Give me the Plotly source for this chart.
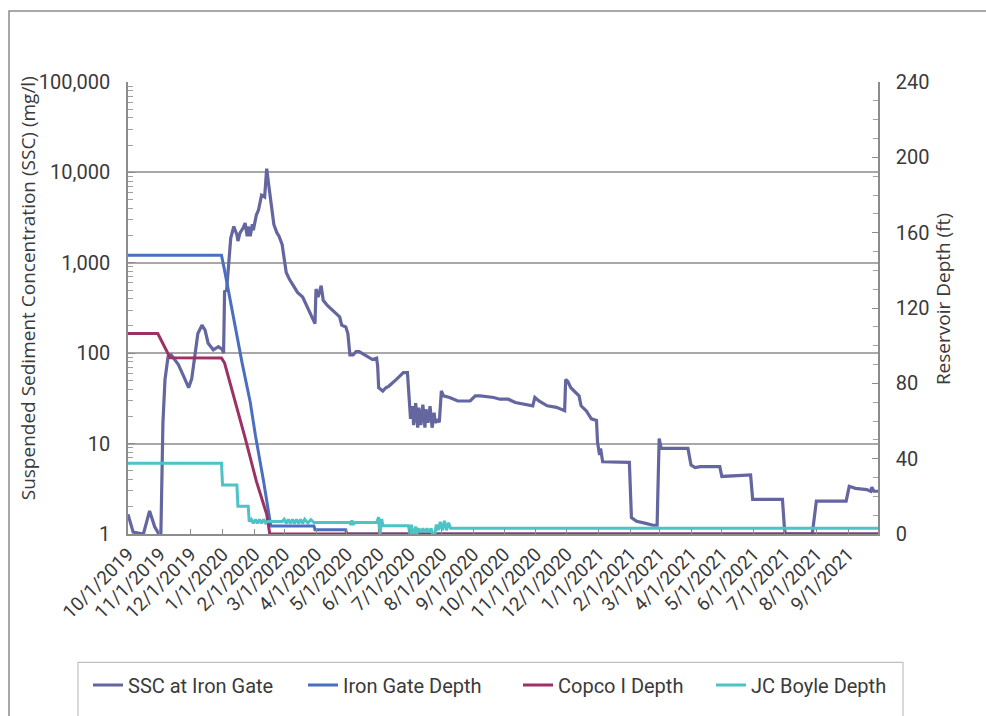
import plotly.graph_objects as go

# ---- Suspended sediment concentration at Iron Gate (mg/l) ----
ssc_dates = [
    "2019-10-01", "2019-10-06", "2019-10-16", "2019-10-22", "2019-10-27", "2019-10-31",
    "2019-11-02", "2019-11-03", "2019-11-04", "2019-11-06", "2019-11-09", "2019-11-12",
    "2019-11-19", "2019-11-24", "2019-11-29", "2019-12-02", "2019-12-05", "2019-12-08",
    "2019-12-12", "2019-12-15", "2019-12-18", "2019-12-23", "2019-12-28", "2020-01-01",
    "2020-01-02", "2020-01-03", "2020-01-05", "2020-01-09", "2020-01-12", "2020-01-15",
    "2020-01-16", "2020-01-18", "2020-01-21", "2020-01-23", "2020-01-25", "2020-01-26",
    "2020-01-28", "2020-01-30", "2020-01-31", "2020-02-02", "2020-02-03", "2020-02-05",
    "2020-02-07", "2020-02-08", "2020-02-11", "2020-02-13", "2020-02-15", "2020-02-18",
    "2020-02-20", "2020-02-23", "2020-02-25", "2020-02-28", "2020-03-01", "2020-03-03",
    "2020-03-06", "2020-03-09", "2020-03-14", "2020-03-19", "2020-03-22", "2020-03-27",
    "2020-03-31", "2020-04-01", "2020-04-03", "2020-04-06", "2020-04-08", "2020-04-12",
    "2020-04-19", "2020-04-24", "2020-04-26", "2020-04-30", "2020-05-02", "2020-05-04",
    "2020-05-07", "2020-05-10", "2020-05-13", "2020-05-18", "2020-05-23", "2020-05-26",
    "2020-05-30", "2020-05-31", "2020-06-01", "2020-06-05", "2020-06-08", "2020-06-11",
    "2020-06-18", "2020-06-25", "2020-06-29", "2020-07-01", "2020-07-02", "2020-07-04",
    "2020-07-05", "2020-07-07", "2020-07-09", "2020-07-10", "2020-07-12", "2020-07-14",
    "2020-07-16", "2020-07-17", "2020-07-19", "2020-07-21", "2020-07-23", "2020-07-25",
    "2020-07-26", "2020-07-28", "2020-07-30", "2020-08-01", "2020-08-03", "2020-08-09",
    "2020-08-17", "2020-08-29", "2020-09-03", "2020-09-08", "2020-09-21", "2020-09-27",
    "2020-10-05", "2020-10-12", "2020-10-20", "2020-10-29", "2020-10-31", "2020-11-04",
    "2020-11-12", "2020-11-21", "2020-11-29", "2020-11-30", "2020-12-02", "2020-12-05",
    "2020-12-13", "2020-12-15", "2020-12-20", "2020-12-25", "2020-12-30", "2020-12-31",
    "2021-01-02", "2021-01-03", "2021-01-05", "2021-01-31", "2021-02-02", "2021-02-07",
    "2021-02-15", "2021-02-23", "2021-02-27", "2021-03-01", "2021-03-03", "2021-03-29",
    "2021-04-01", "2021-04-05", "2021-04-10", "2021-04-29", "2021-05-01", "2021-05-29",
    "2021-05-31", "2021-06-29", "2021-07-01", "2021-07-02", "2021-07-28", "2021-08-01",
    "2021-08-30", "2021-09-02", "2021-09-08", "2021-09-19", "2021-09-23", "2021-09-24",
    "2021-09-26", "2021-09-30",
]
ssc_values = [
    1.65, 1.05, 1.0, 1.8, 1.2, 1.0,
    1.0, 5.3, 17, 51, 92, 96,
    75, 56, 41.5, 52, 100, 165,
    204, 180, 129, 109, 118, 109,
    100, 480, 500, 1880, 2520, 2040,
    1740, 2140, 2420, 2750, 1970, 2520,
    1970, 2660, 2300, 2850, 3400, 3830,
    5100, 5600, 5350, 11000, 7200, 3970,
    2640, 2140, 1970, 1600, 1140, 780,
    660, 580, 470, 418, 353, 262,
    212, 513, 418, 557, 385, 337,
    285, 252, 204, 195, 165, 96,
    96, 104, 104, 96, 88, 85,
    88, 72, 41.5, 38.2, 41.5, 43.3,
    51, 61, 61, 29.6, 18.8, 26,
    16, 28, 15, 25, 16, 27,
    15, 24, 17, 26, 15, 22,
    17, 18, 17.3, 38.2, 33.7, 32.4,
    29.6, 29.6, 33.7, 33.7, 32.4, 31.0,
    31.0, 28.5, 27.3, 26.2, 32.4, 29.6,
    26.2, 25.2, 23.1, 51, 49, 41.5,
    33.7, 26.2, 23.1, 18.8, 18.0, 10.4,
    7.5, 8.8, 6.3, 6.2, 1.52, 1.38,
    1.32, 1.25, 1.25, 11.4, 8.84, 8.84,
    5.8, 5.43, 5.57, 5.57, 4.33, 4.51,
    2.41, 2.41, 1.13, 1.0, 1.0, 2.31,
    2.31, 3.37, 3.2, 3.1, 2.97, 3.3,
    2.97, 2.97,
]

# ---- Reservoir depths (ft) ----
iron_gate_dates = [
    "2019-10-01", "2019-12-31", "2020-01-03", "2020-01-10", "2020-01-20", "2020-01-28",
    "2020-02-02", "2020-02-10", "2020-02-15", "2020-02-17", "2020-03-30", "2020-03-31",
    "2020-04-30", "2020-05-01", "2021-09-30",
]
iron_gate_depth = [148, 148, 140, 119, 91, 70, 52.4, 27.9, 10.5, 4.3, 4.3, 2.3, 2.3, 0, 0]

copco_dates = [
    "2019-10-01", "2019-10-30", "2019-11-11", "2019-12-31", "2020-01-03", "2020-01-13",
    "2020-01-23", "2020-02-03", "2020-02-13", "2020-02-16", "2021-09-30",
]
copco_depth = [106.4, 106.4, 93.6, 93.4, 90.8, 71, 51, 27.9, 10.5, 0, 0]

jc_boyle_dates = [
    "2019-10-01", "2019-12-31", "2020-01-01", "2020-01-15", "2020-01-16", "2020-01-26",
    "2020-01-27", "2020-01-29", "2020-01-31", "2020-02-02", "2020-02-04", "2020-02-06",
    "2020-02-08", "2020-02-10", "2020-02-12", "2020-02-14", "2020-02-28", "2020-03-01",
    "2020-03-03", "2020-03-05", "2020-03-07", "2020-03-09", "2020-03-11", "2020-03-13",
    "2020-03-15", "2020-03-17", "2020-03-19", "2020-03-21", "2020-03-24", "2020-03-27",
    "2020-03-30", "2020-05-04", "2020-05-05", "2020-05-06", "2020-05-07", "2020-05-09",
    "2020-05-30", "2020-06-01", "2020-06-02", "2020-06-04", "2020-06-05", "2020-06-30",
    "2020-07-02", "2020-07-03", "2020-07-05", "2020-07-07", "2020-07-08", "2020-07-10",
    "2020-07-12", "2020-07-14", "2020-07-16", "2020-07-18", "2020-07-20", "2020-07-22",
    "2020-07-25", "2020-07-27", "2020-07-29", "2020-07-31", "2020-08-02", "2020-08-04",
    "2020-08-06", "2020-08-08", "2020-08-10", "2020-08-14", "2021-09-30",
]
jc_boyle_depth = [
    37.6, 37.6, 26, 26, 14.8, 14.8,
    6.6, 7.8, 5.6, 7.8, 5.6, 7.8,
    5.6, 7.8, 5.8, 6.6, 6.6, 7.8,
    5.6, 7.8, 5.6, 7.8, 5.6, 7.8,
    5.6, 7.8, 5.6, 7.8, 5.8, 7.6,
    6.1, 6.1, 4.8, 7.2, 5.0, 6.1,
    6.1, 9, -1, 8, 4.4, 4.4,
    -2, 5, -3, 4, 0, 3,
    1, 3, 1, 3, 1, 3,
    -3, 5, 2, 6.5, 2, 7,
    2, 6, 3, 3, 3,
]

series_names = ["SSC at Iron Gate", "Iron Gate Depth", "Copco I Depth", "JC Boyle Depth"]
series_colors = ["#64669f", "#4a6ec0", "#9c3163", "#4cc3c6"]

x_start, x_end = "2019-10-01", "2021-09-30"

label_font = "Roboto, Noto Sans, sans-serif"
title_font = "Open Sans, Noto Sans, sans-serif"
text_color = "#3a3a3a"
axis_gray = "#8c8c8c"

fig = go.Figure()
fig.add_trace(go.Scatter(x=ssc_dates, y=ssc_values, mode="lines", name=series_names[0],
                         line=dict(color=series_colors[0], width=3.2), legend="legend"))
fig.add_trace(go.Scatter(x=iron_gate_dates, y=iron_gate_depth, mode="lines", name=series_names[1],
                         line=dict(color=series_colors[1], width=3), yaxis="y2", legend="legend2"))
fig.add_trace(go.Scatter(x=copco_dates, y=copco_depth, mode="lines", name=series_names[2],
                         line=dict(color=series_colors[2], width=3), yaxis="y2", legend="legend3"))
fig.add_trace(go.Scatter(x=jc_boyle_dates, y=jc_boyle_depth, mode="lines", name=series_names[3],
                         line=dict(color=series_colors[3], width=3), yaxis="y2", legend="legend4"))

W, H = 986, 716
L, R, T, B = 128, 108, 82, 176
pw, ph = W - L - R, H - T - B


def px_x(p):
    return (p - L) / pw


def px_y(p):
    return (T + ph - p) / ph


leg_common = dict(orientation="h", yanchor="middle", xanchor="left", bgcolor="rgba(0,0,0,0)",
                  borderwidth=0, font=dict(family=label_font, size=20, color=text_color))
leg_y = px_y(693)

fig.update_layout(
    width=W, height=H,
    margin=dict(l=L, r=R, t=T, b=B),
    paper_bgcolor="white", plot_bgcolor="white",
    showlegend=True,
    legend=dict(x=px_x(88), y=leg_y, **leg_common),
    legend2=dict(x=px_x(303), y=leg_y, **leg_common),
    legend3=dict(x=px_x(518), y=leg_y, **leg_common),
    legend4=dict(x=px_x(711), y=leg_y, **leg_common),
    xaxis=dict(
        type="date", range=[x_start, x_end], tick0=x_start, dtick="M1",
        tickformat="%-m/%-d/%Y", tickangle=-45, automargin=False,
        tickfont=dict(family=label_font, size=19, color=text_color),
        ticks="inside", ticklen=5, tickcolor=axis_gray,
        showline=True, linecolor=axis_gray, linewidth=1.5, showgrid=False, zeroline=False,
    ),
    yaxis=dict(
        type="log", range=[0, 5], dtick=1, tickformat=",", automargin=False,
        tickfont=dict(family=label_font, size=20, color=text_color),
        ticks="inside", ticklen=7, tickcolor=axis_gray,
        minor=dict(ticks="inside", ticklen=5, tickcolor="#a0a0a0", dtick="D1", showgrid=False),
        showline=True, linecolor=axis_gray, linewidth=1.5,
        showgrid=True, gridcolor="#a8a8a8", gridwidth=1.5, zeroline=False,
        ticklabelstandoff=12,
    ),
    yaxis2=dict(
        overlaying="y", side="right", range=[0, 240], dtick=40, automargin=False,
        tickfont=dict(family=label_font, size=20, color=text_color),
        ticks="inside", ticklen=6, tickcolor=axis_gray,
        minor=dict(ticks="inside", ticklen=5, tickcolor="#a0a0a0", dtick=10, showgrid=False),
        showline=True, linecolor=axis_gray, linewidth=1.5,
        showgrid=False, zeroline=False, ticklabelstandoff=12,
    ),
    shapes=[
        # outer chart frame
        dict(type="rect", xref="paper", yref="paper", x0=px_x(9), x1=px_x(1000),
             y0=px_y(730), y1=px_y(10), line=dict(color=axis_gray, width=1.5), layer="below"),
        # legend box
        dict(type="rect", xref="paper", yref="paper", x0=px_x(78), x1=px_x(903),
             y0=px_y(730), y1=px_y(670), line=dict(color="#c0c0c0", width=1.2), layer="below"),
    ],
    annotations=[
        dict(text="Suspended Sediment Concentration (SSC) (mg/l)", textangle=-90,
             xref="paper", yref="paper", x=px_x(28), y=px_y(291), showarrow=False,
             xanchor="center", yanchor="middle",
             font=dict(family=title_font, size=19, color=text_color)),
        dict(text="Reservoir Depth (ft)", textangle=-90,
             xref="paper", yref="paper", x=px_x(943), y=px_y(302), showarrow=False,
             xanchor="center", yanchor="middle",
             font=dict(family=title_font, size=19, color=text_color)),
    ],
)

fig.write_html("out.html")
